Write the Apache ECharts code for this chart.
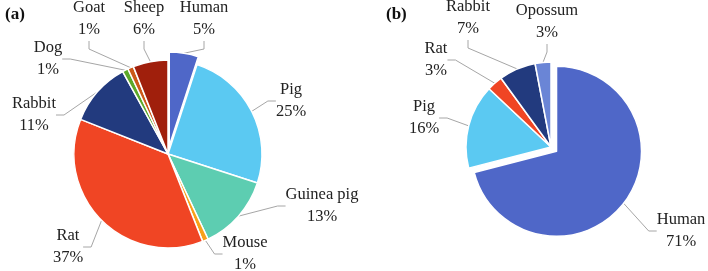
<!DOCTYPE html>
<html>
<head>
<meta charset="utf-8">
<script src="https://cdn.jsdelivr.net/npm/echarts@6/dist/echarts.min.js"></script>
<style>
  html, body { margin: 0; padding: 0; background: #fff; }
  #main { width: 708px; height: 271px; }
</style>
</head>
<body>
<div id="main"></div>
<script>
// data
var namesA = ['Human', 'Pig', 'Guinea pig', 'Mouse', 'Rat', 'Rabbit', 'Dog', 'Goat', 'Sheep'];
var valuesA = [5, 25, 13, 1, 37, 11, 1, 1, 6];
var colorsA = ['#4f67c8', '#5bc9f2', '#5dcdb1', '#f7a11a', '#f04524', '#223a7e', '#5ca829', '#cc5a1a', '#a01f0c'];

var namesB = ['Human', 'Pig', 'Rat', 'Rabbit', 'Opossum'];
var valuesB = [71, 16, 3, 7, 3];
var colorsB = ['#4f67c8', '#5bc9f2', '#f04524', '#223a7e', '#6a85d6'];

// label centres (px)
var labelPosA = [[204, 19], [291, 101], [322, 206], [245, 254], [68, 247], [34, 115], [48, 59], [89, 19], [144, 19]];
var labelPosB = [[681, 231], [424, 118], [436, 60], [468, 18], [547, 22]];

var myChart = echarts.init(document.getElementById('main'));

var fontFam = '"Liberation Serif", "DejaVu Serif", serif';

// which slice is pulled out of the pie
var explodeName = 'Human';

// build data; part = 'rest' draws everything but the exploded slice, 'explode' only that slice
function buildData(names, values, colors, part) {
    var out = [];
    for (var i = 0; i < names.length; i++) {
        var isEx = names[i] === explodeName;
        var visible = part === 'rest' ? !isEx : isEx;
        out.push({
            name: names[i],
            value: values[i],
            itemStyle: visible
                ? { color: colors[i], borderColor: '#fff', borderWidth: 1.5 }
                : { color: 'rgba(0,0,0,0)', borderWidth: 0 },
            label: { show: visible },
            labelLine: { show: visible }
        });
    }
    return out;
}

// shift of the exploded slice, along its middle angle
function explodeCenter(center, names, values, dist) {
    var total = 0, before = 0, idx = names.indexOf(explodeName);
    for (var i = 0; i < values.length; i++) {
        total += values[i];
        if (i < idx) before += values[i];
    }
    var mid = (before + values[idx] / 2) / total * Math.PI * 2;
    return [center[0] + Math.sin(mid) * dist, center[1] - Math.cos(mid) * dist];
}

function placeLabels(pos) {
    return function (params) {
        var p = pos[params.dataIndex];
        return { x: p[0], y: p[1], align: 'center', verticalAlign: 'middle' };
    };
}

function pieSeries(center, radius, names, values, colors, pos, part) {
    return {
        type: 'pie',
        center: center,
        radius: radius,
        startAngle: 90,
        clockwise: true,
        animation: false,
        silent: true,
        avoidLabelOverlap: false,
        label: {
            position: 'outside',
            formatter: '{b}\n{c}%',
            fontFamily: fontFam,
            fontSize: 16.5,
            lineHeight: 22,
            color: '#222',
            align: 'center'
        },
        labelLine: {
            length: 8,
            length2: 8,
            lineStyle: { color: '#a6a6a6', width: 1 }
        },
        labelLayout: placeLabels(pos),
        emphasis: { disabled: true },
        data: buildData(names, values, colors, part)
    };
}

var centerA = [168, 154], radiusA = 94;
var centerB = [551, 147], radiusB = 85;

var option = {
    backgroundColor: '#fff',
    title: [
        { text: '(a)', left: 0, top: 1, textStyle: { fontFamily: fontFam, fontSize: 17, fontWeight: 'bold', color: '#111' } },
        { text: '(b)', left: 381, top: 1, textStyle: { fontFamily: fontFam, fontSize: 17, fontWeight: 'bold', color: '#111' } }
    ],
    series: [
        pieSeries(centerA, radiusA, namesA, valuesA, colorsA, labelPosA, 'rest'),
        pieSeries(explodeCenter(centerA, namesA, valuesA, 8), radiusA, namesA, valuesA, colorsA, labelPosA, 'explode'),
        pieSeries(centerB, radiusB, namesB, valuesB, colorsB, labelPosB, 'rest'),
        pieSeries(explodeCenter(centerB, namesB, valuesB, 7), radiusB, namesB, valuesB, colorsB, labelPosB, 'explode')
    ]
};

if (option && typeof option === 'object') {
    myChart.setOption(option);
}
</script>
</body>
</html>
